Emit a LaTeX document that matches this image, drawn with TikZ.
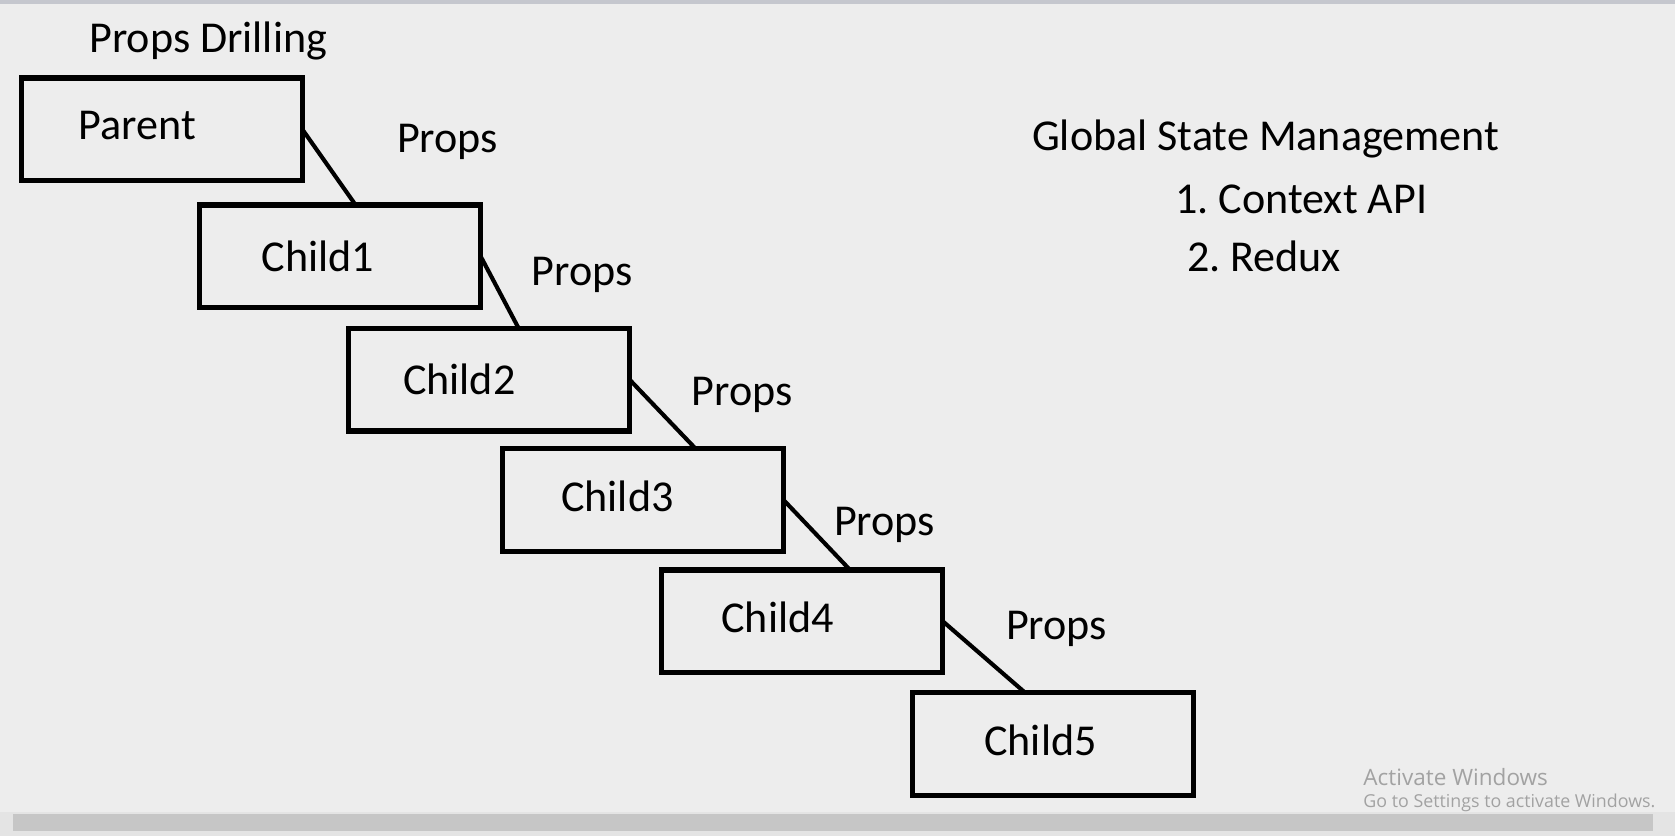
\documentclass[tikz,border=0pt]{standalone}
\usepackage{fontspec}
\setmainfont{Carlito}
\newfontfamily\winfont{Open Sans}
\usetikzlibrary{positioning,calc}
\definecolor{screenbg}{HTML}{EDEDED}
\definecolor{topbar}{HTML}{C5C7CE}
\definecolor{track}{HTML}{E4E4E4}
\definecolor{thumb}{HTML}{C6C6C6}
\definecolor{watermark}{HTML}{A2A2A2}
\frenchspacing

\begin{document}
\begin{tikzpicture}[x=0.02cm, y=-0.02cm, every node/.style={font=\fontsize{23.5}{28}\selectfont}, box/.style={draw, line width=2.8pt, minimum width=5.26cm, minimum height=1.92cm, inner sep=0pt, outer sep=0pt}, link/.style={line width=2.2pt}, wm/.style={anchor=west, text=watermark, inner sep=0pt}]
% screen background
\fill[screenbg] (0,0) rectangle (1568,783);
\fill[topbar] (0,0) rectangle (1568,4);
\fill[track] (0,760) rectangle (1568,783);
\fill[thumb] (12,762) rectangle (1547,778);
\useasboundingbox (0,0) rectangle (1568,783);

\node (title) at (195,38) {Props Drilling};
\node (parent) [box, label={[xshift=-0.46cm, yshift=0.07cm]center:Parent}] at (151.5,121) {};
\node (child1) [box, label={[xshift=-0.42cm]center:Child1}] at (318.5,240) {};
\node (child2) [box, label={[xshift=-0.56cm]center:Child2}] at (458,355.5) {};
\node (child3) [box, label={[xshift=-0.48cm, yshift=0.06cm]center:Child3}] at (602,468) {};
\node (child4) [box, label={[xshift=-0.46cm, yshift=0.07cm]center:Child4}] at (751,581.5) {};
\node (child5) [box, label={[xshift=-0.24cm, yshift=0.07cm]center:Child5}] at (986,696.5) {};

\node (props1) at (419,133) {Props};
\node (props2) at (545,257) {Props};
\node (props3) at (695,370) {Props};
\node (props4) at (828,491) {Props};
\node (props5) at (989,589) {Props};

\draw[link] (parent.east) -- ($(child1.north west)!0.555!(child1.north east)$);
\draw[link] (child1.east) -- ($(child2.north west)!0.605!(child2.north east)$);
\draw[link] (child2.east) -- ($(child3.north west)!0.687!(child3.north east)$);
\draw[link] (child3.east) -- ($(child4.north west)!0.67!(child4.north east)$);
\draw[link] (child4.east) -- ($(child5.north west)!0.40!(child5.north east)$);

\node (global) [anchor=west] at (960,130) {Global State Management};
\node (context) [anchor=west] at (1094,187) {1. Context API};
\node (redux) [anchor=west] at (1105,240) {2. Redux};

% windows watermark
\node (activate) [wm, font=\winfont\fontsize{12}{14}\selectfont] at (1276,727) {Activate Windows};
\node (settings) [wm, font=\winfont\fontsize{9.5}{11}\selectfont] at (1276,752) {Go to Settings to activate Windows.};
\end{tikzpicture}
\end{document}
